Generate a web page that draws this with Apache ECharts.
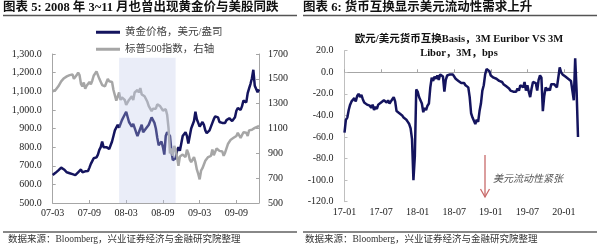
<!DOCTYPE html>
<html><head><meta charset="utf-8">
<script src="https://cdn.jsdelivr.net/npm/echarts@6/dist/echarts.min.js"></script>
<style>html,body{margin:0;padding:0;background:#fff}#c{width:600px;height:246px}</style>
</head><body><div id="c"></div>
<script>
// ---------- Left chart: weekly, Mar 2007 - Dec 2009 ----------
const goldPrice = [
 650,655,662,665, 675,680,690,685, 680,670,665,670,660, 660,655,655,650,
 655,665,670,680, 665,665,670,665,672, 690,710,725,740, 735,745,760,785,
 800,830,800,810,800, 800,790,810,830,
 860,890,880,920, 905,910,945,950, 975,990,1000,935,940, 910,925,920,880,
 860,880,890,920, 880,880,900,890,920, 930,960,960,930, 900,850,810,810,830,
 800,760,860,880, 890,860,780,730, 740,740,780,800, 780,820,860,870,880,
 860,820,860,900, 910,940,990,950, 930,910,920,935,920, 890,875,880,890,
 910,930,950,965, 975,960,935,940,930, 920,930,945,950, 955,950,940,945,
 960,995,1010,1005,1000, 1020,1050,1060,1040, 1090,1115,1140,1170, 1215,1130,1120,1095,1110
];
const spx = [
 1400,1385,1410,1420, 1440,1450,1480,1495, 1505,1500,1520,1515,1530, 1520,1535,1500,1505,
 1530,1550,1530,1460, 1440,1470,1420,1445,1460, 1475,1455,1485,1525, 1535,1560,1545,1500,
 1510,1450,1460,1440,1470, 1500,1480,1465,1475,
 1410,1400,1325,1330, 1390,1330,1350,1345, 1330,1290,1295,1330,1320, 1360,1330,1390,1395,
 1410,1390,1425,1375, 1385,1360,1360,1315,1280, 1270,1240,1260,1255, 1260,1295,1300,1280,1285,
 1245,1250,1255,1210, 1100,900,940,880, 960,930,870,800, 875,880,890,885,870,
 930,900,850,830, 830,870,830,770, 735,690,760,780,810, 840,855,870,860,
 880,930,885,890, 940,945,920,920,915, 880,905,940,975, 990,1010,1000,1025,
 1015,1040,1065,1045,1025, 1040,1070,1085,1065, 1040,1085,1095,1090, 1105,1105,1100,1115,1120
];
const leftTickLabels = ['07-03','07-09','08-03','08-09','09-03','09-09'];
const spxTicks = [500,700,900,1100,1300,1500,1700];
const shadeStartWeek = 47, shadeEndWeek = 87, shadeTop = 1280;

// ---------- Right chart: weekly, Jan 2017 - Mar 2020 ----------
const basis = [
 -56,-44,-42,-35,-30, -27,-26,-24,-27, -22,-20,-23,-21, -25,-28,-27,-30,-29,
 -31,-33,-30,-35, -32,-34,-30,-31, -28,-29,-26,-27,-28, -26,-29,-27,-25,
 -23,-27,-36,-35, -38,-37,-40,-42,-41, -44,-46,-48,-52,-62,-100,-78,-16,
 -18,-23,-26,-29, -37,-33,-35,-31,-29, -14,-5,-8,-4, -6,-3,-7,-2,
 -1,-4,-18,-7, -3,-1.5,-2,-3,-2, -3,-6,-5,-8, -8,-10,-11,-10,-12,
 -12,-14,-23,-38, -42,-45,-48,-44,-46, -36,-29,-17,-12, -2,3,4.5,1,
 -3,-2,-5,-4,-6, -5,-8,-7,-9, -11,-10,-13,-12, -15,-17,-16,-18,-17,
 -18,-15,-17,-12, -11,-14,-9,-17, -12,-18,-23,-15,-9, -8,-10,-17,-7,
 -3,-5,-36,-22, -14,-17,-15,-17,-11, -12,-11,-12,-14, -5,4.5,0,-2,-3,
 -4,-5,-6,-7, -8,-9,-26,13, -17,-60
];
const rightTickLabels = ['17-01','17-07','18-01','18-07','19-01','19-07','20-01'];
const weeksPerTick = 26;

const serif = '"Liberation Serif", "Noto Sans CJK SC", serif';
const leftCats = goldPrice.map((_, i) => i);
const rightCats = basis.map((_, i) => i);
const isTick = (i) => i % weeksPerTick === 0;
const axisGray = '#a6a6a6';
const lblStyle = {fontFamily: serif, fontSize: 10, color: '#222'};

const chart = echarts.init(document.getElementById('c'), null, {renderer: 'canvas'});
chart.setOption({
  animation: false,
  backgroundColor: '#fff',
  grid: [
    {left: 52.7, right: 341, top: 54, bottom: 43},
    {left: 344.5, right: 22, top: 50.7, bottom: 44.3}
  ],
  legend: [
    {data: ['黄金价格，美元/盎司'], left: 96, top: 27, padding: 0, icon: 'rect', itemWidth: 24, itemHeight: 3,
     textStyle: {fontFamily: serif, fontSize: 10.5, color: '#404040'}},
    {data: ['标普500指数，右轴'], left: 96, top: 44, padding: 0, icon: 'rect', itemWidth: 24, itemHeight: 3,
     textStyle: {fontFamily: serif, fontSize: 10.5, color: '#404040'}}
  ],
  xAxis: [
    {type: 'category', gridIndex: 0, data: leftCats, boundaryGap: false,
     axisLine: {lineStyle: {color: axisGray}},
     axisTick: {inside: true, length: 3, interval: (i) => isTick(i), lineStyle: {color: axisGray}},
     axisLabel: {...lblStyle, margin: 5, interval: (i) => isTick(i), formatter: (v, i) => leftTickLabels[i / weeksPerTick] || ''}},
    {type: 'category', gridIndex: 1, data: rightCats, boundaryGap: false,
     axisLine: {onZero: true, lineStyle: {color: axisGray}},
     axisTick: {inside: true, length: 3, interval: (i) => isTick(i), lineStyle: {color: axisGray}},
     axisLabel: {show: false}},
    {type: 'category', gridIndex: 1, data: rightCats, boundaryGap: false, position: 'bottom',
     axisLine: {show: false, onZero: false}, axisTick: {show: false},
     axisLabel: {...lblStyle, margin: 6, interval: (i) => isTick(i), formatter: (v, i) => rightTickLabels[i / weeksPerTick] || ''}}
  ],
  yAxis: [
    {type: 'value', gridIndex: 0, min: 500, max: 1300, interval: 100, splitLine: {show: false},
     axisLine: {show: true, lineStyle: {color: axisGray}},
     axisTick: {show: true, inside: true, length: 3, lineStyle: {color: axisGray}},
     axisLabel: {...lblStyle, margin: 11, formatter: (v) => v.toLocaleString('en-US', {minimumFractionDigits: 1, maximumFractionDigits: 1})}},
    {type: 'value', gridIndex: 0, position: 'right', min: 500, max: 1700, splitLine: {show: false},
     axisLine: {show: true, lineStyle: {color: axisGray}},
     axisTick: {show: true, inside: true, length: 3, customValues: spxTicks, lineStyle: {color: axisGray}},
     axisLabel: {...lblStyle, margin: 9, customValues: spxTicks, formatter: (v) => String(v)}},
    {type: 'value', gridIndex: 1, min: -120, max: 20, interval: 20, splitLine: {show: false},
     axisLine: {show: true, lineStyle: {color: '#bfbfbf'}},
     axisTick: {show: true, inside: true, length: 3, lineStyle: {color: '#bfbfbf'}},
     axisLabel: {...lblStyle, margin: 11, formatter: (v) => v.toFixed(1)}}
  ],
  series: [
    {name: '黄金价格，美元/盎司', type: 'line', xAxisIndex: 0, yAxisIndex: 0, data: goldPrice,
     showSymbol: false, symbol: 'none', z: 3, color: '#14145e', lineStyle: {width: 2.5, color: '#14145e'}},
    {name: '标普500指数，右轴', type: 'line', xAxisIndex: 0, yAxisIndex: 1, data: spx,
     showSymbol: false, symbol: 'none', z: 4, color: '#a6a6a6', lineStyle: {width: 2.5, color: '#a6a6a6'}},
    {name: 'shade', type: 'line', xAxisIndex: 0, yAxisIndex: 0, data: [], z: 10,
     markArea: {silent: true, z: 10, itemStyle: {color: 'rgba(190,200,234,0.32)'},
       data: [[{xAxis: shadeStartWeek, yAxis: 500}, {xAxis: shadeEndWeek, yAxis: shadeTop}]]}},
    {name: 'basis', type: 'line', xAxisIndex: 1, yAxisIndex: 2, data: basis,
     showSymbol: false, symbol: 'none', z: 3, lineStyle: {width: 2.5, color: '#14145e'}}
  ],
  graphic: [
    {type: 'text', left: 3, top: 2, style: {text: '图表 5: 2008 年 3~11 月也曾出现黄金价与美股同跌', font: 'bold 12.5px "Liberation Serif", "Noto Sans CJK SC"', fill: '#111'}},
    {type: 'text', left: 303, top: 2, style: {text: '图表 6: 货币互换显示美元流动性需求上升', font: 'bold 12.5px "Liberation Serif", "Noto Sans CJK SC"', fill: '#111'}},
    {type: 'line', shape: {x1: 3, y1: 15.5, x2: 297, y2: 15.5}, style: {stroke: '#555', lineWidth: 1.5}},
    {type: 'line', shape: {x1: 303, y1: 15.5, x2: 597, y2: 15.5}, style: {stroke: '#555', lineWidth: 1.5}},
    {type: 'line', shape: {x1: 3, y1: 232, x2: 297, y2: 232}, style: {stroke: '#888', lineWidth: 2}},
    {type: 'line', shape: {x1: 303, y1: 232, x2: 597, y2: 232}, style: {stroke: '#888', lineWidth: 2}},
    {type: 'text', left: 8, top: 235, style: {text: '数据来源：Bloomberg，兴业证券经济与金融研究院整理', font: '9.5px "Liberation Serif", "Noto Sans CJK SC"', fill: '#333'}},
    {type: 'text', left: 305, top: 235, style: {text: '数据来源：Bloomberg，兴业证券经济与金融研究院整理', font: '9.5px "Liberation Serif", "Noto Sans CJK SC"', fill: '#333'}},
    {type: 'text', x: 459, y: 39, style: {text: '欧元/美元货币互换Basis，3M Euribor VS 3M', align: 'center', verticalAlign: 'middle', font: 'bold 10.5px "Liberation Serif", "Noto Sans CJK SC"', fill: '#111'}},
    {type: 'text', x: 459, y: 53, style: {text: 'Libor，3M，bps', align: 'center', verticalAlign: 'middle', font: 'bold 10.5px "Liberation Serif", "Noto Sans CJK SC"', fill: '#111'}},
    {type: 'polyline', shape: {points: [[485, 155], [485, 197]]}, style: {stroke: '#c86a6a', lineWidth: 1.3}},
    {type: 'polyline', shape: {points: [[480.5, 189], [485, 197], [489.5, 189]]}, style: {stroke: '#c86a6a', lineWidth: 1.3, fill: null}},
    {type: 'text', x: 493, y: 179, style: {text: '美元流动性紧张', verticalAlign: 'middle', font: 'italic 10px "Liberation Serif", "Noto Sans CJK SC"', fill: '#555'}}
  ]
});
</script></body></html>
